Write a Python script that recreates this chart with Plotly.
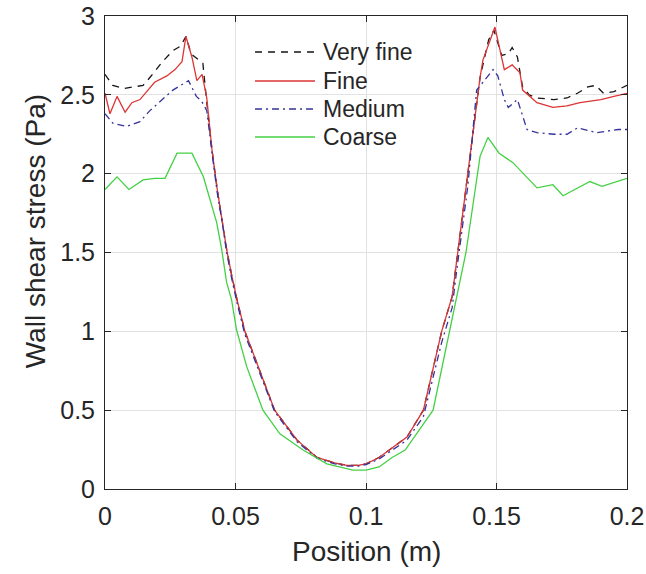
import plotly.graph_objects as go

# Wall shear stress along the wall for four mesh resolutions
names = ["Very fine", "Fine", "Medium", "Coarse"]

x_very_fine = [0.0, 0.003, 0.007, 0.0146, 0.0172, 0.022, 0.026, 0.029, 0.031, 0.033,
               0.036, 0.0375, 0.039, 0.041, 0.043, 0.045, 0.0466, 0.0486, 0.0506, 0.0536,
               0.0594, 0.065, 0.0736, 0.0812, 0.088, 0.0927, 0.097, 0.100, 0.105, 0.109,
               0.1157, 0.122, 0.129, 0.133, 0.1347, 0.139, 0.1437, 0.147, 0.149, 0.152,
               0.1545, 0.156, 0.158, 0.160, 0.1625, 0.1655, 0.172, 0.177, 0.181, 0.185,
               0.188, 0.191, 0.195, 0.2]
y_very_fine = [2.63, 2.56, 2.54, 2.56, 2.61, 2.71, 2.78, 2.81, 2.87, 2.76,
               2.72, 2.70, 2.45, 2.15, 1.90, 1.70, 1.52, 1.35, 1.20, 1.00,
               0.74, 0.50, 0.31, 0.20, 0.165, 0.15, 0.15, 0.16, 0.20, 0.25,
               0.33, 0.50, 1.00, 1.22, 1.45, 2.00, 2.61, 2.85, 2.91, 2.75,
               2.76, 2.80, 2.74, 2.55, 2.50, 2.48, 2.47, 2.48, 2.51, 2.55,
               2.56, 2.51, 2.52, 2.56]

x_fine = [0.0, 0.0019, 0.0046, 0.0077, 0.0103, 0.0134, 0.019, 0.0237, 0.0268, 0.0295,
          0.031, 0.0333, 0.0352, 0.0372, 0.039, 0.041, 0.043, 0.045, 0.0466, 0.0486,
          0.0506, 0.0536, 0.0594, 0.065, 0.0736, 0.0812, 0.088, 0.0927, 0.097, 0.100,
          0.105, 0.109, 0.1157, 0.122, 0.129, 0.133, 0.1347, 0.139, 0.1437, 0.1448,
          0.1494, 0.153, 0.156, 0.159, 0.160, 0.1655, 0.1716, 0.177, 0.182, 0.190,
          0.195, 0.2]
y_fine = [2.51, 2.38, 2.49, 2.39, 2.45, 2.47, 2.58, 2.62, 2.66, 2.71,
          2.87, 2.74, 2.59, 2.63, 2.48, 2.15, 1.90, 1.70, 1.52, 1.35,
          1.20, 1.00, 0.74, 0.50, 0.31, 0.20, 0.165, 0.15, 0.15, 0.16,
          0.20, 0.25, 0.33, 0.50, 1.00, 1.22, 1.45, 2.00, 2.61, 2.72,
          2.93, 2.66, 2.69, 2.64, 2.53, 2.45, 2.42, 2.43, 2.45, 2.47,
          2.49, 2.51]

x_medium = [0.0, 0.003, 0.0083, 0.0134, 0.0172, 0.022, 0.026, 0.032, 0.035, 0.037,
            0.039, 0.041, 0.043, 0.045, 0.0466, 0.0486, 0.0506, 0.0536, 0.0594, 0.065,
            0.0736, 0.0812, 0.088, 0.0927, 0.097, 0.100, 0.105, 0.109, 0.1157, 0.122,
            0.129, 0.133, 0.1347, 0.139, 0.1424, 0.1487, 0.1505, 0.153, 0.1545, 0.158,
            0.1617, 0.1655, 0.172, 0.177, 0.181, 0.1885, 0.1966, 0.2]
y_medium = [2.38, 2.32, 2.30, 2.33, 2.40, 2.47, 2.53, 2.59, 2.49, 2.46,
            2.40, 2.13, 1.88, 1.68, 1.50, 1.33, 1.18, 0.98, 0.73, 0.49,
            0.30, 0.195, 0.16, 0.145, 0.145, 0.155, 0.19, 0.235, 0.31, 0.46,
            0.93, 1.15, 1.38, 1.92, 2.53, 2.66, 2.62, 2.47, 2.42, 2.47,
            2.28, 2.26, 2.25, 2.25, 2.29, 2.26, 2.28, 2.28]

x_coarse = [0.0, 0.0046, 0.0092, 0.0146, 0.019, 0.023, 0.0276, 0.0333, 0.0377, 0.0428,
            0.0447, 0.0466, 0.0485, 0.0504, 0.0543, 0.0605, 0.067, 0.0759, 0.085, 0.095,
            0.100, 0.105, 0.110, 0.115, 0.1257, 0.132, 0.1347, 0.1383, 0.1437, 0.1467,
            0.151, 0.1563, 0.1655, 0.1716, 0.1755, 0.1858, 0.1904, 0.2]
y_coarse = [1.90, 1.98, 1.90, 1.96, 1.97, 1.97, 2.13, 2.13, 1.98, 1.69,
            1.52, 1.31, 1.20, 1.01, 0.776, 0.50, 0.35, 0.247, 0.16, 0.12,
            0.12, 0.14, 0.20, 0.247, 0.50, 1.00, 1.20, 1.50, 2.11, 2.23,
            2.13, 2.07, 1.91, 1.93, 1.86, 1.95, 1.92, 1.97]

xs = [x_very_fine, x_fine, x_medium, x_coarse]
ys = [y_very_fine, y_fine, y_medium, y_coarse]
colors = ["#151515", "#dd3434", "#33339c", "#44d044"]
dashes = ["7px,6px", "solid", "7px,4px,2px,4px", "solid"]

x_ticks = [0, 0.05, 0.1, 0.15, 0.2]
x_tick_text = ["0", "0.05", "0.1", "0.15", "0.2"]
y_ticks = [0, 0.5, 1, 1.5, 2, 2.5, 3]
y_tick_text = ["0", "0.5", "1", "1.5", "2", "2.5", "3"]

FONT = "Liberation Sans, Arial, sans-serif"
AX = "#262626"

fig = go.Figure()
for name, x, y, c, d in zip(names, xs, ys, colors, dashes):
    fig.add_trace(go.Scatter(x=x, y=y, mode="lines", name=name,
                             line=dict(color=c, width=1.3, dash=d),
                             showlegend=False))

# Legend drawn by hand so the line samples are as long as MATLAB's
leg_x0, leg_x1, leg_text_x = 0.2874, 0.4023, 0.4138
leg_y = [0.9239, 0.8626, 0.8034, 0.7442]
for name, c, d, ly in zip(names, colors, dashes, leg_y):
    fig.add_shape(type="line", xref="paper", yref="paper",
                  x0=leg_x0, x1=leg_x1, y0=ly, y1=ly,
                  line=dict(color=c, width=1.3, dash=d))
    fig.add_annotation(xref="paper", yref="paper", x=leg_text_x, y=ly,
                       text=name, showarrow=False, xanchor="left", yanchor="middle",
                       font=dict(family=FONT, size=23, color=AX))

# Axis titles
fig.add_annotation(xref="paper", yref="paper", x=0.5, y=-0.133,
                   text="Position (m)", showarrow=False,
                   xanchor="center", yanchor="middle",
                   font=dict(family=FONT, size=28, color=AX))
fig.add_annotation(xref="paper", yref="paper", x=-0.134, y=0.545,
                   text="Wall shear stress (Pa)", showarrow=False, textangle=-90,
                   xanchor="center", yanchor="middle",
                   font=dict(family=FONT, size=28, color=AX))

axis_common = dict(showline=True, linecolor=AX, linewidth=1, mirror="ticks",
                   ticks="inside", ticklen=6, tickcolor=AX, tickwidth=1,
                   showgrid=True, gridcolor="#e2e2e2", gridwidth=1, zeroline=False,
                   automargin=False,
                   tickfont=dict(family=FONT, size=25, color=AX))

fig.update_layout(
    width=646, height=574,
    margin=dict(l=105, r=19, t=16, b=85),
    paper_bgcolor="white", plot_bgcolor="white",
    xaxis=dict(range=[0, 0.2], tickvals=x_ticks, ticktext=x_tick_text,
               ticklabelstandoff=5, **axis_common),
    yaxis=dict(range=[0, 3], tickvals=y_ticks, ticktext=y_tick_text,
               ticklabelstandoff=4, **axis_common),
)

fig.write_html("out.html")
